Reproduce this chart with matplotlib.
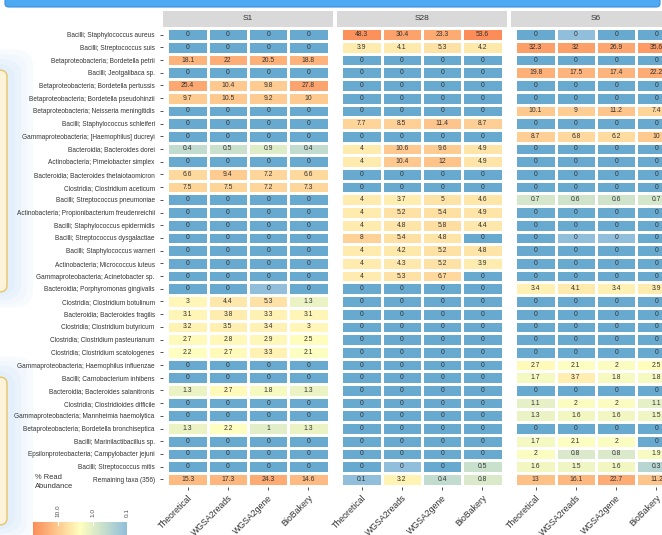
import numpy as np
import matplotlib
matplotlib.use("Agg")
import matplotlib.pyplot as plt
from matplotlib.colors import LinearSegmentedColormap, LogNorm
from matplotlib.patches import Rectangle, FancyBboxPatch

plt.rcParams['font.family'] = ['Liberation Sans', 'DejaVu Sans']

taxa = [
    "Bacilli; Staphylococcus aureus",
    "Bacilli; Streptococcus suis",
    "Betaproteobacteria; Bordetella petrii",
    "Bacilli; Jeotgalibaca sp.",
    "Betaproteobacteria; Bordetella pertussis",
    "Betaproteobacteria; Bordetella pseudohinzii",
    "Betaproteobacteria; Neisseria meningitidis",
    "Bacilli; Staphylococcus schleiferi",
    "Gammaproteobacteria; [Haemophilus] ducreyi",
    "Bacteroidia; Bacteroides dorei",
    "Actinobacteria; Pimelobacter simplex",
    "Bacteroidia; Bacteroides thetaiotaomicron",
    "Clostridia; Clostridium aceticum",
    "Bacilli; Streptococcus pneumoniae",
    "Actinobacteria; Propionibacterium freudenreichii",
    "Bacilli; Staphylococcus epidermidis",
    "Bacilli; Streptococcus dysgalactiae",
    "Bacilli; Staphylococcus warneri",
    "Actinobacteria; Micrococcus luteus",
    "Gammaproteobacteria; Acinetobacter sp.",
    "Bacteroidia; Porphyromonas gingivalis",
    "Clostridia; Clostridium botulinum",
    "Bacteroidia; Bacteroides fragilis",
    "Clostridia; Clostridium butyricum",
    "Clostridia; Clostridium pasteurianum",
    "Clostridia; Clostridium scatologenes",
    "Gammaproteobacteria; Haemophilus influenzae",
    "Bacilli; Carnobacterium inhibens",
    "Bacteroidia; Bacteroides salanitronis",
    "Clostridia; Clostridioides difficile",
    "Gammaproteobacteria; Mannheimia haemolytica",
    "Betaproteobacteria; Bordetella bronchiseptica",
    "Bacilli; Marinilactibacillus sp.",
    "Epsilonproteobacteria; Campylobacter jejuni",
    "Bacilli; Streptococcus mitis",
    "Remaining taxa (356)",
]

methods = ["Theoretical", "WGSA2reads", "WGSA2gene", "BioBakery"]
samples = ["S1", "S28", "S6"]

# % read abundance per taxon (rows) and method (columns)
s1_values = [
    [0, 0, 0, 0], [0, 0, 0, 0], [18.1, 22, 20.5, 18.8], [0, 0, 0, 0],
    [25.4, 10.4, 9.8, 27.8], [9.7, 10.5, 9.2, 10], [0, 0, 0, 0], [0, 0, 0, 0],
    [0, 0, 0, 0], [0.4, 0.5, 0.9, 0.4], [0, 0, 0, 0], [6.6, 9.4, 7.2, 6.6],
    [7.5, 7.5, 7.2, 7.3], [0, 0, 0, 0], [0, 0, 0, 0], [0, 0, 0, 0],
    [0, 0, 0, 0], [0, 0, 0, 0], [0, 0, 0, 0], [0, 0, 0, 0],
    [0, 0, 0.03, 0], [3, 4.4, 5.3, 1.3], [3.1, 3.8, 3.3, 3.1], [3.2, 3.5, 3.4, 3],
    [2.7, 2.8, 2.9, 2.5], [2.2, 2.7, 3.3, 2.1], [0, 0, 0, 0], [0, 0, 0, 0],
    [1.3, 2.7, 1.8, 1.3], [0, 0, 0, 0], [0, 0, 0, 0], [1.3, 2.2, 1, 1.3],
    [0, 0, 0, 0], [0, 0, 0, 0], [0, 0, 0, 0], [15.3, 17.3, 24.3, 14.6],
]
s28_values = [
    [48.3, 30.4, 23.3, 53.6], [3.9, 4.1, 5.3, 4.2], [0, 0, 0, 0], [0, 0, 0, 0],
    [0, 0, 0, 0], [0, 0, 0, 0], [0, 0, 0, 0], [7.7, 8.5, 11.4, 8.7],
    [0, 0, 0, 0], [4, 10.6, 9.6, 4.9], [4, 10.4, 12, 4.9], [0, 0, 0, 0],
    [0, 0, 0, 0], [4, 3.7, 5, 4.6], [4, 5.2, 5.4, 4.9], [4, 4.8, 5.8, 4.4],
    [8, 5.4, 4.8, 0], [4, 4.2, 5.2, 4.8], [4, 4.3, 5.2, 3.9], [4, 5.3, 6.7, 0],
    [0, 0, 0, 0], [0, 0, 0, 0], [0, 0, 0, 0], [0, 0, 0, 0],
    [0, 0, 0, 0], [0, 0, 0, 0], [0, 0, 0, 0], [0, 0, 0, 0],
    [0, 0, 0, 0], [0, 0, 0, 0], [0, 0, 0, 0], [0, 0, 0, 0],
    [0, 0, 0, 0], [0, 0, 0, 0], [0, 0.03, 0, 0.5], [0.1, 3.2, 0.4, 0.8],
]
s6_values = [
    [0, 0.03, 0, 0], [32.3, 32, 26.9, 35.6], [0, 0, 0, 0], [19.8, 17.5, 17.4, 22.2],
    [0, 0, 0, 0], [0, 0, 0, 0], [10.1, 9, 11.2, 7.4], [0, 0, 0, 0],
    [8.7, 6.8, 6.2, 10], [0, 0, 0, 0], [0, 0, 0, 0], [0, 0, 0, 0],
    [0, 0, 0, 0], [0.7, 0.6, 0.6, 0.7], [0, 0, 0, 0], [0, 0, 0, 0],
    [0, 0.03, 0.03, 0], [0, 0, 0, 0], [0, 0, 0, 0], [0, 0, 0, 0],
    [3.4, 4.1, 3.4, 3.9], [0, 0, 0, 0], [0, 0, 0, 0], [0, 0, 0, 0],
    [0, 0, 0, 0], [0, 0, 0, 0], [2.7, 2.1, 2, 2.5], [1.7, 3.7, 1.8, 1.8],
    [0, 0, 0, 0], [1.1, 2, 2, 1.1], [1.3, 1.6, 1.6, 1.5], [0, 0, 0, 0],
    [1.7, 2.1, 2, 0], [2, 0.8, 0.8, 1.9], [1.6, 1.5, 1.6, 0.3], [13, 16.1, 22.7, 11.2],
]
panel_values = [s1_values, s28_values, s6_values]

legend_ticks = [10.0, 1.0, 0.1]
legend_tick_labels = ["10.0", "1.0", "0.1"]

# ---- styling ----
W, H = 662, 535
cmap = LinearSegmentedColormap.from_list("abund", ["#91bfdb", "#ffffbf", "#fc8d59"])
cmap.set_bad("#67a9cf")
vmax = max(max(max(r) for r in p) for p in panel_values)
norm = LogNorm(vmin=0.1, vmax=vmax)
txt_dark = "#333333"


def fx(px):
    return px / W


def fy(py):
    return 1 - py / H


fig = plt.figure(figsize=(W / 100, H / 100), dpi=100)
fig.patch.set_facecolor("white")

# page decorations behind the chart
for (y0, y1) in [(70, 292), (377, 525)]:
    for k, a in enumerate([0.10, 0.10, 0.12, 0.14]):
        grow = 26 - k * 6
        fig.add_artist(FancyBboxPatch((fx(-30), fy(y1 + grow * 0.6)), fx(37 + grow),
                                      (y1 - y0 + grow * 1.4) / H,
                                      boxstyle="round,pad=0,rounding_size=0.03",
                                      transform=fig.transFigure, facecolor="#bcdcf8",
                                      edgecolor="none", alpha=a, zorder=0))
    fig.add_artist(FancyBboxPatch((fx(-20), fy(y1)), fx(27), (y1 - y0) / H,
                                  boxstyle="round,pad=0,rounding_size=0.012",
                                  transform=fig.transFigure, facecolor="#fdf3d8",
                                  edgecolor="#e8c46a", linewidth=1.0, zorder=0.5))

fig.add_artist(FancyBboxPatch((fx(5), fy(7)), fx(655), 12 / H,
                              boxstyle="round,pad=0,rounding_size=0.006",
                              transform=fig.transFigure, facecolor="#4ea9f3",
                              edgecolor="#3b8fe4", linewidth=0.8, zorder=1))

panel_w, panel_step = 170, 174
panel_top, panel_bot = 27, 487
n_rows, n_cols = len(taxa), len(methods)
xpad, ypad = 0.11, 0.1

for k, (sample, vals) in enumerate(zip(samples, panel_values)):
    left = 163 + panel_step * k
    ax = fig.add_axes([fx(left), fy(panel_bot), panel_w / W, (panel_bot - panel_top) / H])
    data = np.ma.masked_less_equal(np.array(vals, dtype=float), 0)
    xe = np.arange(n_cols + 1) - 0.5
    ye = np.arange(n_rows + 1) - 0.5
    ax.pcolormesh(xe, ye, data, cmap=cmap, norm=norm, edgecolors="white", linewidth=0.8)
    for i in range(n_rows):
        for j in range(n_cols):
            v = vals[i][j]
            ax.text(j, i, f"{round(v, 1):g}", ha="center", va="center",
                    fontsize=4.9, color=txt_dark)
    ax.set_xlim(-0.5 - xpad, n_cols - 0.5 + xpad)
    ax.set_ylim(n_rows - 0.5 + ypad, -0.5 - ypad)
    for s in ax.spines.values():
        s.set_visible(False)
    ax.set_xticks(range(n_cols))
    ax.set_xticklabels(methods, rotation=45, ha="right", va="top",
                       rotation_mode="anchor", fontsize=6.3, color=txt_dark)
    ax.tick_params(axis="x", length=2.5, width=0.6, color="#333333", pad=2.2)
    if k == 0:
        ax.set_yticks(range(n_rows))
        ax.set_yticklabels(taxa, fontsize=4.7, color=txt_dark)
        ax.tick_params(axis="y", length=2.5, width=0.6, color="#333333", pad=3.5)
    else:
        ax.set_yticks([])
    # facet strip
    fig.add_artist(Rectangle((fx(left), fy(27)), panel_w / W, 16 / H,
                             transform=fig.transFigure, facecolor="#d9d9d9",
                             edgecolor="none"))
    fig.text(fx(left + panel_w / 2), fy(19), sample, ha="center", va="center",
             fontsize=6, color=txt_dark)

# colour legend
fig.text(fx(35), fy(474), "% Read\nAbundance", ha="left", va="top",
         fontsize=5.4, color=txt_dark, linespacing=1.45)
cax = fig.add_axes([fx(33), fy(545), 94 / W, 23 / H])
lo, hi = np.log10(0.1), np.log10(vmax)
grad = np.logspace(hi, lo, 256)[None, :]
cax.imshow(grad, aspect="auto", cmap=cmap, norm=norm, extent=[hi, lo, 0, 1])
cax.set_xlim(hi, lo)
cax.set_ylim(0, 1)
cax.axis("off")
for t, lab in zip(legend_ticks, legend_tick_labels):
    xt = np.log10(t)
    cax.plot([xt, xt], [1, 0.87], color="white", linewidth=0.8, clip_on=False)
    cax.annotate(lab, xy=(xt, 1), xycoords=("data", "axes fraction"),
                 xytext=(0, 3.5), textcoords="offset points", rotation=90,
                 ha="center", va="bottom", fontsize=4.6, color="#4d4d4d")

fig.savefig("out.png", dpi=100)
